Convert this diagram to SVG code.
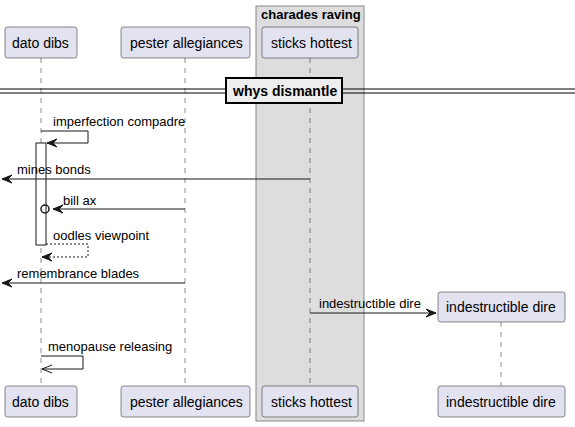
<svg xmlns="http://www.w3.org/2000/svg" width="575" height="427" viewBox="0 0 575 427">
<style>
.part rect{fill:#E2E2F0;stroke:#181818;stroke-width:0.5}
.part text{font-family:"Liberation Sans",Arial,sans-serif;font-size:14px;fill:#000}
.life{stroke:#181818;stroke-width:0.5;stroke-dasharray:5,5;fill:none}
.msg{stroke:#181818;stroke-width:1;fill:none}
.dash{stroke-dasharray:2,2}
.head{fill:#181818;stroke:#181818;stroke-width:1}
.lbl{font-family:"Liberation Sans",Arial,sans-serif;font-size:13px;fill:#000}
.bold{font-family:"Liberation Sans",Arial,sans-serif;font-size:13px;font-weight:bold;fill:#000}
</style>
<g id="group-charades-raving">
<rect x="256" y="6" width="108" height="415" fill="#DDDDDD" stroke="#888888" stroke-width="1"/>
<text class="bold" x="261" y="19">charades raving</text>
</g>
<g id="lifelines">
<line class="life" x1="41" y1="58" x2="41" y2="386"/>
<line class="life" x1="185" y1="58" x2="185" y2="386"/>
<line class="life" x1="310" y1="58" x2="310" y2="386"/>
<line class="life" x1="501" y1="322" x2="501" y2="386"/>
</g>
<g id="divider">
<line x1="0" y1="89" x2="575" y2="89" stroke="#000" stroke-width="1.2"/>
<line x1="0" y1="93" x2="575" y2="93" stroke="#000" stroke-width="1.2"/>
<rect x="226" y="78" width="116" height="25" fill="#EEEEEE" stroke="#000" stroke-width="2"/>
<text class="bold" x="233" y="96" style="font-size:14px">whys dismantle</text>
</g>
<g id="activation">
<rect x="36" y="143" width="10" height="102" fill="#FFFFFF" stroke="#181818" stroke-width="1"/>
</g>
<g id="connectors">
<polyline class="msg" points="41,131 88,131 88,143 47,143"/>
<polygon class="head" points="57,139 47,143 57,147 53,143"/>
<text class="lbl" x="53" y="126">imperfection compadre</text>

<line class="msg" x1="310" y1="179" x2="2" y2="179"/>
<polygon class="head" points="12,175 2,179 12,183 8,179"/>
<text class="lbl" x="17" y="174">mines bonds</text>

<line class="msg" x1="185" y1="209" x2="53" y2="209"/>
<polygon class="head" points="63,205 53,209 63,213 59,209"/>
<circle cx="45" cy="209" r="4" fill="none" stroke="#181818" stroke-width="1.5"/>
<text class="lbl" x="63" y="205">bill ax</text>

<polyline class="msg dash" points="46,244 88,244 88,257 42,257"/>
<polygon class="head" points="52,253 42,257 52,261 48,257"/>
<text class="lbl" x="53" y="240">oodles viewpoint</text>

<line class="msg" x1="185" y1="283" x2="2" y2="283"/>
<polygon class="head" points="12,279 2,283 12,287 8,283"/>
<text class="lbl" x="17" y="278">remembrance blades</text>

<line class="msg" x1="310" y1="313" x2="436" y2="313"/>
<polygon class="head" points="426,309 436,313 426,317 430,313"/>
<text class="lbl" x="319" y="308">indestructible dire</text>

<polyline class="msg" points="41,356 83,356 83,369 42,369"/>
<polyline class="msg" points="52,365 42,369 52,373"/>
<text class="lbl" x="48" y="351">menopause releasing</text>
</g>
<g id="p-dato-dibs" class="part">
<rect x="5" y="27" width="72" height="31" rx="2.5"/>
<text x="12" y="48">dato dibs</text>
<rect x="5" y="386" width="72" height="31" rx="2.5"/>
<text x="12" y="407">dato dibs</text>
</g>
<g id="p-pester-allegiances" class="part">
<rect x="121" y="27" width="129" height="31" rx="2.5"/>
<text x="130" y="48">pester allegiances</text>
<rect x="121" y="386" width="129" height="31" rx="2.5"/>
<text x="130" y="407">pester allegiances</text>
</g>
<g id="p-sticks-hottest" class="part">
<rect x="262" y="27" width="96" height="31" rx="2.5"/>
<text x="271" y="48">sticks hottest</text>
<rect x="262" y="386" width="96" height="31" rx="2.5"/>
<text x="271" y="407">sticks hottest</text>
</g>
<g id="p-indestructible-dire" class="part">
<rect x="438" y="292" width="127" height="30" rx="2.5"/>
<text x="446" y="312">indestructible dire</text>
<rect x="438" y="386" width="127" height="31" rx="2.5"/>
<text x="446" y="407">indestructible dire</text>
</g>
</svg>
